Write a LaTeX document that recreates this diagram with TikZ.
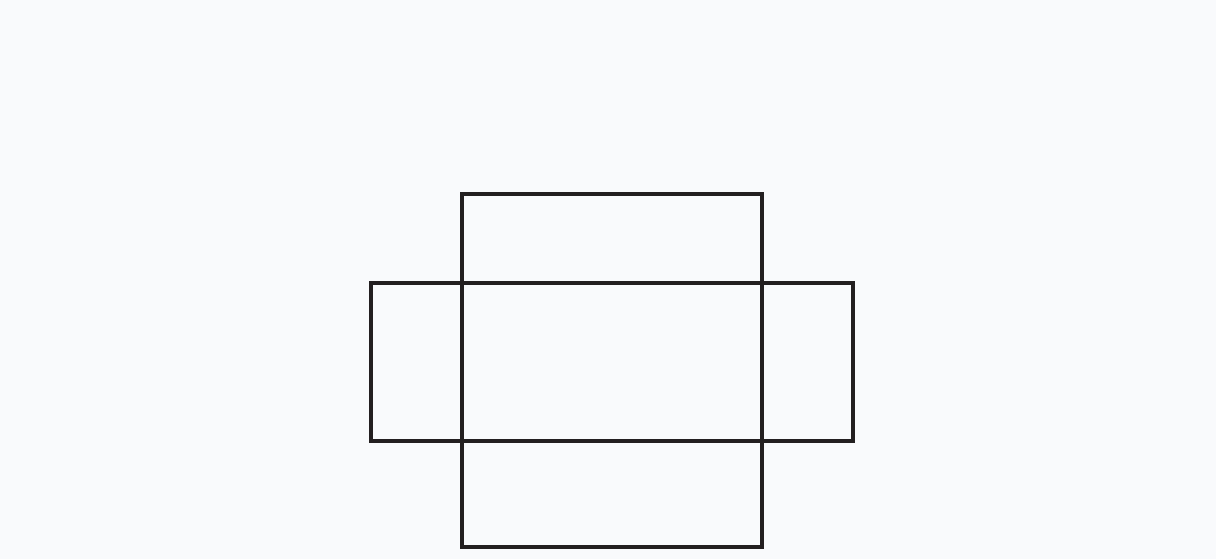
\documentclass[tikz,border=0pt]{standalone}
\usepackage{tikz}
\usetikzlibrary{positioning}
\definecolor{paper}{RGB}{249,250,252}
\definecolor{ink}{RGB}{35,31,32}
\tikzset{
  netline/.style={draw=ink, line width=0.07cm, line join=miter},
}

\begin{document}
\begin{tikzpicture}[x=0.02cm,y=-0.02cm]

\fill[paper] (0,0) rectangle (1216,559);
\useasboundingbox (0,0) rectangle (1216,559);

% vertical strip
\draw[netline] (462,194) rectangle (762,547);

% horizontal strip
\draw[netline] (371,283) rectangle (853,441);

\end{tikzpicture}
\end{document}
